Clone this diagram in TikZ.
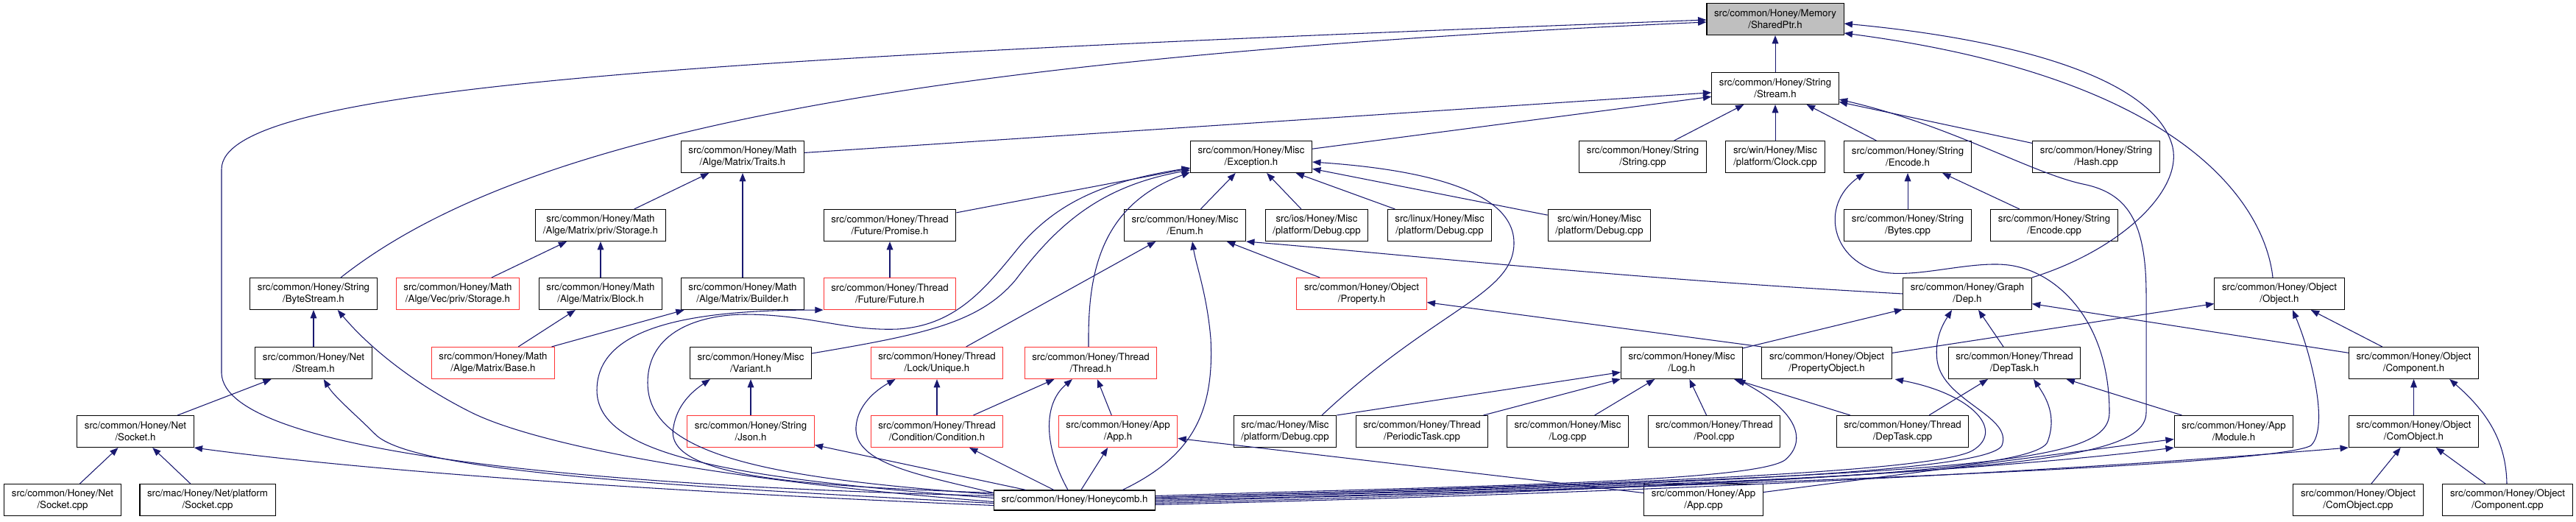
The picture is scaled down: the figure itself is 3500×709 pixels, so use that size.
\documentclass[tikz,border=0pt]{standalone}
\usepackage{fontspec}
\setmainfont{TeX Gyre Heros}
\usetikzlibrary{arrows.meta,calc}
\definecolor{edgeblue}{HTML}{191970}
\definecolor{rootgray}{HTML}{BFBFBF}
\definecolor{trunc}{HTML}{FF3333}
\begin{document}
\begin{tikzpicture}[x=0.75pt,y=-0.75pt,
  box/.style={draw=black, line width=0.8pt, rectangle, align=center, inner xsep=7.6pt, inner ysep=0pt,
    minimum height=32.25pt, font=\fontsize{9.95}{11.8}\selectfont},
  redbox/.style={box, draw=trunc},
  rootbox/.style={box, fill=rootgray},
  edge/.style={draw=edgeblue, line width=0.8pt, -{Triangle[length=8.5pt,width=6.5pt]}}
]
\useasboundingbox (0,0) rectangle (3500,709);
% row 0
\node[rootbox] (sp) at (2412,26) {src/common/Honey/Memory\\/SharedPtr.h};
% row 1
\node[box] (strm) at (2412,120) {src/common/Honey/String\\/Stream.h};
% row 2
\node[box] (traits) at (1009,213) {src/common/Honey/Math\\/Alge/Matrix/Traits.h};
\node[box] (exc) at (1700,213) {src/common/Honey/Misc\\/Exception.h};
\node[box] (strcpp) at (2232,213) {src/common/Honey/String\\/String.cpp};
\node[box] (clock) at (2412,213) {src/win/Honey/Misc\\/platform/Clock.cpp};
\node[box] (ench) at (2592,213) {src/common/Honey/String\\/Encode.h};
\node[box] (hash) at (2848,213) {src/common/Honey/String\\/Hash.cpp};
% row 3
\node[box] (mstor) at (816,306) {src/common/Honey/Math\\/Alge/Matrix/priv/Storage.h};
\node[box] (promise) at (1209,306) {src/common/Honey/Thread\\/Future/Promise.h};
\node[box] (enum) at (1610,306) {src/common/Honey/Misc\\/Enum.h};
\node[box] (iosdbg) at (1789,306) {src/ios/Honey/Misc\\/platform/Debug.cpp};
\node[box] (linuxdbg) at (1956,306) {src/linux/Honey/Misc\\/platform/Debug.cpp};
\node[box] (windbg) at (2173,306) {src/win/Honey/Misc\\/platform/Debug.cpp};
\node[box] (bytes) at (2592,306) {src/common/Honey/String\\/Bytes.cpp};
\node[box] (enccpp) at (2791,306) {src/common/Honey/String\\/Encode.cpp};
% row 4
\node[box] (bytestream) at (426,399) {src/common/Honey/String\\/ByteStream.h};
\node[redbox] (vstor) at (622,399) {src/common/Honey/Math\\/Alge/Vec/priv/Storage.h};
\node[box] (block) at (816,399) {src/common/Honey/Math\\/Alge/Matrix/Block.h};
\node[box] (builder) at (1009,399) {src/common/Honey/Math\\/Alge/Matrix/Builder.h};
\node[redbox] (future) at (1209,399) {src/common/Honey/Thread\\/Future/Future.h};
\node[redbox] (property) at (1850,399) {src/common/Honey/Object\\/Property.h};
\node[box] (dep) at (2673,399) {src/common/Honey/Graph\\/Dep.h};
\node[box] (object) at (3097,399) {src/common/Honey/Object\\/Object.h};
% row 5
\node[box] (netstream) at (426,493) {src/common/Honey/Net\\/Stream.h};
\node[redbox] (base) at (670,493) {src/common/Honey/Math\\/Alge/Matrix/Base.h};
\node[box] (variant) at (1020,493) {src/common/Honey/Misc\\/Variant.h};
\node[redbox] (unique) at (1273,493) {src/common/Honey/Thread\\/Lock/Unique.h};
\node[redbox] (thread) at (1482,493) {src/common/Honey/Thread\\/Thread.h};
\node[box] (log) at (2285,493) {src/common/Honey/Misc\\/Log.h};
\node[box] (propobj) at (2482,493) {src/common/Honey/Object\\/PropertyObject.h};
\node[box] (deptask) at (2737,493) {src/common/Honey/Thread\\/DepTask.h};
\node[box] (component) at (3279.5,493) {src/common/Honey/Object\\/Component.h};
% row 6
\node[box] (socket) at (184,586) {src/common/Honey/Net\\/Socket.h};
\node[redbox] (json) at (1020,586) {src/common/Honey/String\\/Json.h};
\node[redbox] (condition) at (1273,586) {src/common/Honey/Thread\\/Condition/Condition.h};
\node[redbox] (apph) at (1519,586) {src/common/Honey/App\\/App.h};
\node[box] (macdbg) at (1746,586) {src/mac/Honey/Misc\\/platform/Debug.cpp};
\node[box] (periodic) at (1932,586) {src/common/Honey/Thread\\/PeriodicTask.cpp};
\node[box] (logcpp) at (2130,586) {src/common/Honey/Misc\\/Log.cpp};
\node[box] (pool) at (2329,586) {src/common/Honey/Thread\\/Pool.cpp};
\node[box] (deptaskcpp) at (2585,586) {src/common/Honey/Thread\\/DepTask.cpp};
\node[box] (module) at (3035,586) {src/common/Honey/App\\/Module.h};
\node[box] (comobj) at (3279.5,586) {src/common/Honey/Object\\/ComObject.h};
% row 7
\node[box] (socketcpp) at (85,679) {src/common/Honey/Net\\/Socket.cpp};
\node[box] (macsocket) at (282,679) {src/mac/Honey/Net/platform\\/Socket.cpp};
\node[box, minimum height=20.25pt] (honey) at (1460,679.5) {src/common/Honey/Honeycomb.h};
\node[box] (appcpp) at (2314.5,679) {src/common/Honey/App\\/App.cpp};
\node[box] (comobjcpp) at (3204,679) {src/common/Honey/Object\\/ComObject.cpp};
\node[box] (compcpp) at (3407,679) {src/common/Honey/Object\\/Component.cpp};

% straight edges
\draw[edge] (strm) -- (sp);
\draw[edge] (traits) -- (strm);
\draw[edge] (exc) -- (strm);
\draw[edge] (strcpp) -- (strm);
\draw[edge] (clock) -- (strm);
\draw[edge] (ench) -- (strm);
\draw[edge] (hash) -- (strm);
\draw[edge] (enccpp) -- (ench);
\draw[edge] (bytes) -- (ench);
\draw[edge] (mstor) -- (traits);
\draw[edge] (builder) -- (traits);
\draw[edge] (promise) -- (exc);
\draw[edge] (enum) -- (exc);
\draw[edge] (iosdbg) -- (exc);
\draw[edge] (linuxdbg) -- (exc);
\draw[edge] (windbg) -- (exc);
\draw[edge] (unique) -- (enum);
\draw[edge] (property) -- (enum);
\draw[edge] (future) -- (promise);
\draw[edge] (base) -- (builder);
\draw[edge] (base) -- (block);
\draw[edge] (block) -- (mstor);
\draw[edge] (vstor) -- (mstor);
\draw[edge] (netstream) -- (bytestream);
\draw[edge] (socket) -- (netstream);
\draw[edge] (socketcpp) -- (socket);
\draw[edge] (macsocket) -- (socket);
\draw[edge] (json) -- (variant);
\draw[edge] (condition) -- (unique);
\draw[edge] (condition) -- (thread);
\draw[edge] (apph) -- (thread);
\draw[edge] (honey) -- (json);
\draw[edge] (honey) -- (condition);
\draw[edge] (honey) -- (apph);
\draw[edge] (appcpp) -- (apph);
\draw[edge] (macdbg.north east) -- (log);
\draw[edge] (periodic) -- (log);
\draw[edge] (logcpp) -- (log);
\draw[edge] (pool) -- (log);
\draw[edge] (deptaskcpp) -- (log);
\draw[edge] (log) -- (dep);
\draw[edge] (propobj.north west) -- (property);
\draw[edge] (propobj) -- (object);
\draw[edge] (component) -- (dep);
\draw[edge] (component) -- (object);
\draw[edge] (deptask) -- (dep);
\draw[edge] (deptaskcpp) -- (deptask);
\draw[edge] (module) -- (deptask);
\draw[edge] (appcpp) -- (module);
\draw[edge] (comobj) -- (component);
\draw[edge] (comobjcpp) -- (comobj);
\draw[edge] (compcpp) -- (comobj);

% curved edges
\draw[edge] ($(bytestream.north)+(37,0)$) .. controls (700,190) and (1200,80) .. ($(sp.west)+(0,4)$);
\draw[edge] ($(honey.west)+(0,-6)$) .. controls (800,660) and (305,615) .. (301,507) -- (301,230) .. controls (301,120) and (900,80) .. ($(sp.west)+(0,1)$);
\draw[edge] (dep.north east) .. controls (2880,340) and (2965,260) .. (2952,200) .. controls (2930,110) and (2750,55) .. ($(sp.east)+(0,6)$);
\draw[edge] ($(object.north)+(-9,0)$) .. controls (3080,300) and (3000,110) .. ($(sp.east)+(0,19)$);
\draw[edge] ($(honey.east)+(0,-2)$) .. controls (2700,650) and (2916,630) .. (2916,560) -- (2916,400) .. controls (2916,300) and (2890,262) .. (2830,250) .. controls (2760,235) and (2650,170) .. ($(strm.east)+(0,15)$);
\draw[edge] ($(honey.east)+(0,-4)$) .. controls (2700,645) and (2866,630) .. (2866,560) .. controls (2866,440) and (2800,375) .. (2740,362) .. controls (2690,350) and (2610,378) .. (2560,370) .. controls (2490,358) and (2470,280) .. ($(ench.south west)+(28,0)$);
\draw[edge] ($(macdbg.north)+(50,0)$) .. controls (1950,420) and (2057,400) .. (2057,330) .. controls (2057,250) and (1900,228) .. ($(exc.east)+(0,7)$);
\draw[edge] ($(honey.north east)+(-45,0)$) .. controls (1620,620) and (1650,560) .. (1645,460) .. controls (1640,400) and (1625,360) .. ($(enum.south)+(10,0)$);
\draw[edge] (dep.west) .. controls (2200,378) and (1900,345) .. (enum.south east);
\draw[edge] ($(honey.west)+(0,-3)$) .. controls (1000,650) and (811,620) .. (811,530) .. controls (811,440) and (950,421) .. (future.south west);
\draw[edge] ($(honey.west)+(0,-8)$) .. controls (1050,650) and (880,620) .. (880,520) .. controls (880,450) and (950,428) .. (1010,427) .. controls (1100,427) and (1150,450) .. (1220,447) .. controls (1300,442) and (1340,390) .. (1385,335) .. controls (1440,270) and (1510,245) .. ($(exc.west)+(0,15)$);
\draw[edge] ($(variant.east)+(0,-13)$) .. controls (1250,455) and (1330,440) .. (1380,380) .. controls (1440,300) and (1500,252) .. ($(exc.west)+(0,18)$);
\draw[edge] ($(thread.north)+(-3,0)$) .. controls (1478,380) and (1490,280) .. ($(exc.west)+(0,21)$);
\draw[edge] ($(honey.west)+(0,-10)$) .. controls (1100,660) and (900,650) .. (915,580) .. controls (920,550) and (940,532) .. ($(variant.south west)+(28,0)$);
\draw[edge] ($(honey.north west)+(0,4)$) .. controls (1250,645) and (1160,630) .. (1163,580) .. controls (1165,550) and (1190,530) .. ($(unique.south west)+(34,0)$);
\draw[edge] ($(honey.north)+(-9,0)$) .. controls (1420,610) and (1415,550) .. ($(thread.south)+(-25,0)$);
\draw[edge] ($(honey.west)+(0,2)$) .. controls (950,650) and (720,600) .. (640,560) .. controls (560,520) and (500,470) .. ($(bytestream.south east)+(-54,0)$);
\draw[edge] ($(honey.west)+(0,4)$) .. controls (900,660) and (560,640) .. (510,590) .. controls (480,560) and (455,540) .. ($(netstream.south east)+(-66,0)$);
\draw[edge] ($(honey.west)+(0,7)$) .. controls (900,668) and (500,640) .. (socket.south east);
\draw[edge] ($(honey.east)+(0,-6)$) .. controls (2000,660) and (2380,655) .. (2425,625) .. controls (2455,600) and (2445,560) .. ($(log.south east)+(-8,0)$);
\draw[edge] ($(honey.east)+(0,-4)$) .. controls (2100,660) and (2620,645) .. (2680,612) .. controls (2725,585) and (2680,535) .. ($(propobj.south east)+(4,0)$);
\draw[edge] ($(honey.east)+(0,-2)$) .. controls (2200,660) and (2700,645) .. (2720,605) .. controls (2735,565) and (2640,545) .. (2632,490) .. controls (2628,460) and (2640,440) .. ($(dep.south)+(-21,0)$);
\draw[edge] (honey.east) .. controls (2300,662) and (2765,645) .. (2782,600) .. controls (2795,565) and (2780,540) .. ($(deptask.south)+(26,0)$);
\draw[edge] ($(honey.east)+(0,2)$) .. controls (2500,655) and (3100,630) .. (3140,605) .. controls (3165,580) and (3140,480) .. ($(object.south)+(18,0)$);
\draw[edge] ($(honey.east)+(0,4)$) .. controls (2200,668) and (2700,640) .. (module.south west);
\draw[edge] ($(honey.east)+(0,6)$) .. controls (2400,665) and (2900,632) .. (comobj.south west);
\draw[edge] ($(compcpp.north)+(-1,0)$) .. controls (3405,600) and (3380,560) .. ($(component.south east)+(-40,0)$);
\end{tikzpicture}
\end{document}
